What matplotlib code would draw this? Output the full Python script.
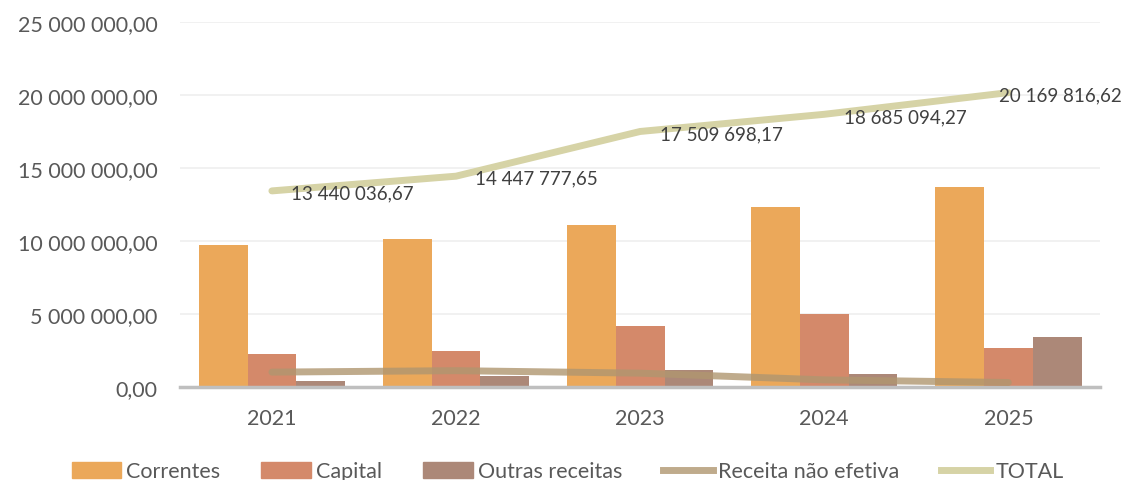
import numpy as np
import matplotlib.pyplot as plt
from matplotlib.ticker import FuncFormatter
from matplotlib.lines import Line2D
from matplotlib.patches import Patch

plt.rcParams['font.family'] = ['Lato', 'DejaVu Sans']

anos = ['2021', '2022', '2023', '2024', '2025']
correntes = [9730000, 10140000, 11100000, 12330000, 13700000]
capital = [2260000, 2470000, 4180000, 5000000, 2670000]
outras = [410000, 750000, 1160000, 890000, 3420000]
nao_efetiva = [1030000, 1130000, 960000, 500000, 320000]
total = [13440036.67, 14447777.65, 17509698.17, 18685094.27, 20169816.62]

c_corr = '#EBA85A'
c_cap = '#D4896A'
c_out = '#AC8878'
c_nef = '#B09670'
c_tot = '#D6D3A6'
txt = '#595959'


def fmt_pt(v, pos=None):
    s = f'{v:,.2f}'
    return s.replace(',', ' ').replace('.', ',')


fig = plt.figure(figsize=(11.24, 4.81), dpi=100)
ax = fig.add_axes([0.160, 0.193, 0.819, 0.759])

x = np.arange(len(anos))
w = 0.265
ax.bar(x - w, correntes, w, color=c_corr, zorder=2)
ax.bar(x, capital, w, color=c_cap, zorder=2)
ax.bar(x + w, outras, w, color=c_out, zorder=2)

ax.plot(x, nao_efetiva, color=c_nef, lw=5, alpha=0.8, solid_capstyle='round', zorder=3)
ax.plot(x, total, color=c_tot, lw=5, solid_capstyle='round', zorder=3)

# last label is pushed left so it stays inside the chart
for i, (xi, v) in enumerate(zip(x, total)):
    dx = -7 if i == len(total) - 1 else 14
    ax.annotate(fmt_pt(v), (xi, v), xytext=(dx, -1.5), textcoords='offset points',
                ha='left', va='center', fontsize=13.5, color='#404040', zorder=4,
                annotation_clip=False)

ax.set_xlim(-0.5, len(anos) - 0.5)
ax.set_ylim(0, 25000000)
ax.set_yticks(np.arange(0, 25000001, 5000000))
ax.yaxis.set_major_formatter(FuncFormatter(fmt_pt))
ax.set_xticks(x)
ax.set_xticklabels(anos)
ax.grid(axis='y', color='#EFEFEF', lw=1.2, zorder=0)
ax.set_axisbelow(True)
for s in ['top', 'right', 'left']:
    ax.spines[s].set_visible(False)
ax.spines['bottom'].set_color('#BFBFBF')
ax.spines['bottom'].set_linewidth(2.5)
ax.tick_params(axis='both', length=0, labelsize=15.5, colors=txt)
ax.tick_params(axis='x', pad=15)
ax.tick_params(axis='y', pad=16)

handles = [Patch(color=c_corr), Patch(color=c_cap), Patch(color=c_out),
           Line2D([], [], color=c_nef, lw=5, alpha=0.8), Line2D([], [], color=c_tot, lw=5)]
labels = ['Correntes', 'Capital', 'Outras receitas', 'Receita não efetiva', 'TOTAL']
leg = fig.legend(handles, labels, loc='center', bbox_to_anchor=(0.505, 0.018), ncol=5,
                 frameon=False, fontsize=15.5, handlelength=2.3, handleheight=0.75,
                 columnspacing=1.9, handletextpad=0.25)
for t in leg.get_texts():
    t.set_color(txt)

fig.savefig('out.png', dpi=100)
